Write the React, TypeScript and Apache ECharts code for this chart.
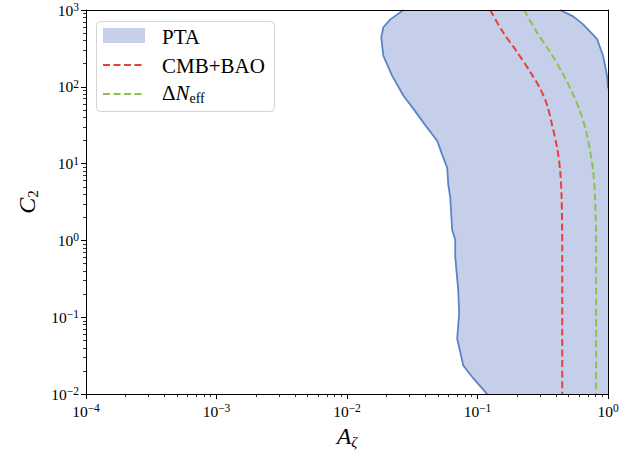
import React, { useEffect, useRef } from "react";
import * as echarts from "echarts";

// ---------- data ----------
const X_MIN = 1e-4;
const X_MAX = 1;
const Y_MIN = 1e-2;
const Y_MAX = 1e3;

// left boundary of the PTA region, top -> bottom
const ptaLeft: [number, number][] = [
  [0.0271, 1000], [0.0215, 755], [0.019, 596], [0.0183, 443], [0.019, 252],
  [0.0222, 139], [0.027, 77], [0.0322, 52], [0.0398, 31.7], [0.0492, 19.7],
  [0.0537, 13.0], [0.0586, 8.85], [0.0597, 5.35], [0.0618, 3.64], [0.064, 1.37],
  [0.0675, 1.02], [0.0675, 0.615], [0.0711, 0.231], [0.0724, 0.1135], [0.0699, 0.0526],
  [0.0778, 0.0236], [0.0927, 0.0161], [0.1186, 0.01],
];
// upper-right boundary of the PTA region, top -> right edge
const ptaRight: [number, number][] = [
  [0.43, 1000], [0.541, 825], [0.645, 650], [0.826, 417], [0.918, 252], [0.984, 139], [1, 95],
];
const cmbBao: [number, number][] = [
  [0.125, 1000], [0.157, 513], [0.201, 284], [0.253, 157], [0.302, 94.8], [0.342, 57.3],
  [0.373, 31.7], [0.408, 16.0], [0.43, 8.09], [0.441, 3.64], [0.446, 0.83], [0.446, 0.01],
];
const deltaNeff: [number, number][] = [
  [0.228, 1000], [0.285, 513], [0.36, 284], [0.442, 157], [0.528, 86.7], [0.611, 48.0],
  [0.679, 26.5], [0.729, 14.7], [0.769, 8.1], [0.796, 3.64], [0.811, 0.83], [0.811, 0.01],
];

const legendNames = ["PTA", "CMB+BAO", "ΔNeff"];

// ---------- styles ----------
const SERIF = "'Liberation Serif', 'DejaVu Serif', serif";
const FILL = "#c5cfea";
const EDGE = "#5a84c6";
const RED = "#e5413b";
const GREEN = "#8cc24a";

const expLabel = (v: number) => {
  const e = Math.round(Math.log10(v));
  const s = e < 0 ? "\u2212" + String(-e) : String(e);
  return `{b|10}{s|${s}}`;
};

const tickRich = {
  b: { fontFamily: SERIF, fontSize: 15.5, lineHeight: 18, color: "#000", verticalAlign: "middle" },
  s: { fontFamily: SERIF, fontSize: 11.5, lineHeight: 11, color: "#000", verticalAlign: "top" },
};

export default function App() {
  const ref = useRef<HTMLDivElement>(null);

  useEffect(() => {
    document.body.style.margin = "0";
    if (!ref.current) return;
    const chart = echarts.init(ref.current, undefined, { renderer: "svg" });

    const polygon: [number, number][] = [
      ...ptaLeft,
      [X_MAX, Y_MIN],
      ...[...ptaRight].reverse(),
    ];

    const baseAxis = {
      type: "log",
      logBase: 10,
      z: 10,
      axisLine: { show: true, onZero: false, lineStyle: { color: "#000", width: 1 } },
      splitLine: { show: false },
      minorSplitLine: { show: false },
    };
    const majorTick = { show: true, inside: false, length: 5, lineStyle: { color: "#000", width: 1 } };
    const minorTick = { show: true, splitNumber: 9, length: 3, lineStyle: { color: "#000", width: 0.8 } };

    const option: any = {
      animation: false,
      backgroundColor: "#fff",
      grid: { left: 86, top: 10, right: 34, bottom: 55, containLabel: false },
      xAxis: [
        {
          ...baseAxis,
          min: X_MIN,
          max: X_MAX,
          splitNumber: 4,
          axisTick: majorTick,
          minorTick,
          axisLabel: { margin: 8, formatter: expLabel, rich: tickRich },
          name: "{i|A}{s|ζ}",
          nameLocation: "middle",
          nameGap: 24,
          nameTextStyle: {
            rich: {
              i: { fontFamily: SERIF, fontStyle: "italic", fontSize: 24, lineHeight: 26, color: "#000" },
              s: { fontFamily: SERIF, fontStyle: "italic", fontSize: 15, lineHeight: 18, color: "#000", verticalAlign: "bottom" },
            },
          },
        },
        {
          ...baseAxis,
          min: X_MIN,
          max: X_MAX,
          position: "top",
          axisTick: { show: false },
          axisLabel: { show: false },
        },
      ],
      yAxis: [
        {
          ...baseAxis,
          min: Y_MIN,
          max: Y_MAX,
          splitNumber: 5,
          axisTick: majorTick,
          minorTick,
          axisLabel: { margin: 7, formatter: expLabel, rich: tickRich },
          name: "{i|C}{s|2}",
          nameLocation: "middle",
          nameGap: 44,
          nameTextStyle: {
            rich: {
              i: { fontFamily: SERIF, fontStyle: "italic", fontSize: 24, lineHeight: 26, color: "#000" },
              s: { fontFamily: SERIF, fontSize: 15, lineHeight: 18, color: "#000", verticalAlign: "bottom" },
            },
          },
        },
        {
          ...baseAxis,
          min: Y_MIN,
          max: Y_MAX,
          position: "right",
          axisTick: { show: false },
          axisLabel: { show: false },
        },
      ],
      series: [
        {
          name: legendNames[0],
          type: "custom",
          data: [0],
          z: 1,
          renderItem: (_params: any, api: any) => {
            const pts = polygon.map((p) => api.coord(p));
            return {
              type: "polygon",
              shape: { points: pts },
              style: { fill: FILL, stroke: "none" },
            };
          },
        },
        {
          name: "PTA edge left",
          type: "line",
          data: ptaLeft,
          showSymbol: false,
          symbol: "none",
          z: 3,
          lineStyle: { color: EDGE, width: 1.8 },
        },
        {
          name: "PTA edge right",
          type: "line",
          data: ptaRight,
          showSymbol: false,
          symbol: "none",
          z: 3,
          lineStyle: { color: EDGE, width: 1.8 },
        },
        {
          name: legendNames[1],
          type: "line",
          data: cmbBao,
          showSymbol: false,
          symbol: "none",
          smooth: 0.3,
          z: 4,
          lineStyle: { color: RED, width: 2, type: [7, 3.5] },
        },
        {
          name: legendNames[2],
          type: "line",
          data: deltaNeff,
          showSymbol: false,
          symbol: "none",
          smooth: 0.3,
          z: 4,
          lineStyle: { color: GREEN, width: 2, type: [7, 3.5] },
        },
      ],
      graphic: [
        {
          type: "rect",
          z: 100,
          shape: { x: 96.5, y: 21.5, width: 178, height: 90, r: 4 },
          style: { fill: "rgba(255,255,255,0.85)", stroke: "#d4d4d4", lineWidth: 1 },
        },
        {
          type: "rect",
          z: 101,
          shape: { x: 103, y: 28, width: 42, height: 15 },
          style: { fill: FILL },
        },
        {
          type: "line",
          z: 101,
          shape: { x1: 103, y1: 65, x2: 145, y2: 65 },
          style: { stroke: RED, lineWidth: 2, lineDash: [7, 3.5] },
        },
        {
          type: "line",
          z: 101,
          shape: { x1: 103, y1: 94, x2: 145, y2: 94 },
          style: { stroke: GREEN, lineWidth: 2, lineDash: [7, 3.5] },
        },
        {
          type: "text",
          z: 101,
          x: 162,
          y: 37,
          style: { text: legendNames[0], fontFamily: SERIF, fontSize: 21, fill: "#000", verticalAlign: "middle" },
        },
        {
          type: "text",
          z: 101,
          x: 162,
          y: 66,
          style: { text: legendNames[1], fontFamily: SERIF, fontSize: 21, fill: "#000", verticalAlign: "middle" },
        },
        {
          type: "text",
          z: 101,
          x: 162,
          y: 93,
          style: {
            text: "{r|Δ}{i|N}{s|eff}",
            verticalAlign: "middle",
            rich: {
              r: { fontFamily: SERIF, fontSize: 21, lineHeight: 24, color: "#000" },
              i: { fontFamily: SERIF, fontStyle: "italic", fontSize: 21, lineHeight: 24, color: "#000" },
              s: { fontFamily: SERIF, fontSize: 14, lineHeight: 14, color: "#000", verticalAlign: "bottom" },
            },
          },
        },
      ],
    };

    chart.setOption(option);
    return () => chart.dispose();
  }, []);

  return <div ref={ref} style={{ width: 642, height: 454 }} />;
}
